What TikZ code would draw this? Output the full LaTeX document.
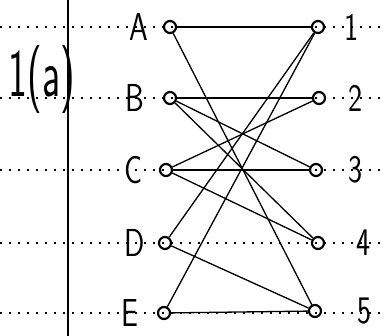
\documentclass[tikz,border=0pt]{standalone}
\usepackage{tikz}

\begin{document}
\begin{tikzpicture}[x=1pt, y=-1pt, line width=1.3pt,
    vert/.style={draw, circle, line width=2.2pt, inner sep=0pt, minimum size=12pt},
    lab/.style={font=\sffamily\fontsize{30}{30}\selectfont, yscale=1.3, transform shape},
    rule/.style={line width=1.8pt, dash pattern=on 1.8pt off 7.2pt}]
    \useasboundingbox (0,0) rectangle (386,336);

    % ruled paper
    \foreach \y in {27,98,170,243,313}
        \draw[rule] (0,\y) -- (386,\y);
    \draw[line width=1.4pt] (68,0) -- (68,336);
    \node[font=\sffamily\fontsize{40}{40}\selectfont, yscale=1.7, transform shape] (title) at (42,80) {1(a)};

    \node[vert] (A) at (170,27) {};
    \node[vert] (B) at (170,98) {};
    \node[vert] (C) at (166,170) {};
    \node[vert] (D) at (165,243) {};
    \node[vert] (E) at (164,313) {};
    \node[vert] (n1) at (318,27) {};
    \node[vert] (n2) at (319,98) {};
    \node[vert] (n3) at (316,170) {};
    \node[vert] (n4) at (318,243) {};
    \node[vert] (n5) at (315,311) {};

    \node[lab, left of=A, node distance=31pt] (lA) {A};
    \node[lab, left of=B, node distance=35pt] (lB) {B};
    \node[lab, left of=C, node distance=32pt] (lC) {C};
    \node[lab, left of=D, node distance=30pt] (lD) {D};
    \node[lab, left of=E, node distance=34pt] (lE) {E};
    \node[lab, right of=n1, node distance=34pt] (l1) {1};
    \node[lab, right of=n2, node distance=37pt] (l2) {2};
    \node[lab, right of=n3, node distance=40pt] (l3) {3};
    \node[lab, right of=n4, node distance=46pt] (l4) {4};
    \node[lab, right of=n5, node distance=50pt] (l5) {5};

    \draw (A) -- (n1);
    \draw (A) -- (n5);
    \draw (B) -- (n2);
    \draw (B) -- (n3);
    \draw (B) -- (n4);
    \draw (C) -- (n2);
    \draw (C) -- (n3);
    \draw (C) -- (n4);
    \draw (D) -- (n1);
    \draw (D) -- (n5);
    \draw (E) -- (n1);
    \draw (E) -- (n5);
\end{tikzpicture}
\end{document}
